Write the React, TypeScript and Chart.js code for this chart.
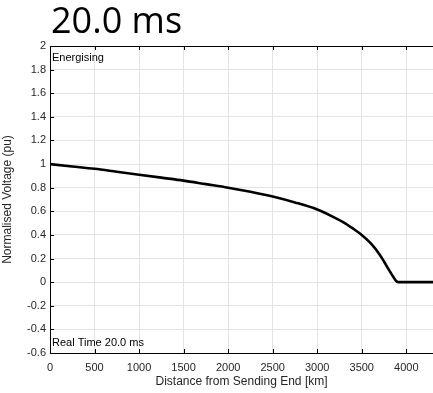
import React, { useEffect, useRef } from "react";
import { Chart, registerables } from "chart.js";

Chart.register(...registerables);

const titleText = "20.0 ms";
const topLabel = "Energising";
const bottomLabel = "Real Time 20.0 ms";
const xTitle = "Distance from Sending End [km]";
const yTitle = "Normalised Voltage (pu)";

const distanceKm = [0, 250, 500, 750, 1000, 1250, 1500, 1750, 2000, 2250, 2500, 2750, 3000, 3200, 3300, 3400, 3500, 3600, 3700, 3750, 3800, 3850, 3880, 3910, 4000, 4300];
const voltagePu = [1.0, 0.98, 0.96, 0.935, 0.91, 0.885, 0.86, 0.83, 0.8, 0.765, 0.725, 0.675, 0.615, 0.545, 0.505, 0.455, 0.4, 0.33, 0.235, 0.175, 0.11, 0.05, 0.015, 0, 0, 0];

const xTickValues = [0, 500, 1000, 1500, 2000, 2500, 3000, 3500, 4000];

const FONT = "'Liberation Sans', Arial, sans-serif";

const decorPlugin = {
  id: "decor",
  afterDraw(chart: any) {
    const { ctx, chartArea } = chart;
    const xs = chart.scales.x;
    const ys = chart.scales.y;
    ctx.save();
    ctx.strokeStyle = "#000";
    ctx.lineWidth = 1;
    ctx.beginPath();
    ctx.moveTo(chartArea.left, chartArea.top + 0.5);
    ctx.lineTo(chartArea.right, chartArea.top + 0.5);
    ctx.stroke();
    ctx.beginPath();
    xs.ticks.forEach((t: any) => {
      const px = Math.round(xs.getPixelForValue(t.value)) + 0.5;
      ctx.moveTo(px, chartArea.bottom);
      ctx.lineTo(px, chartArea.bottom - 4);
      ctx.moveTo(px, chartArea.top);
      ctx.lineTo(px, chartArea.top + 4);
    });
    ys.ticks.forEach((t: any) => {
      const py = Math.round(ys.getPixelForValue(t.value)) + 0.5;
      ctx.moveTo(chartArea.left, py);
      ctx.lineTo(chartArea.left + 4, py);
    });
    ctx.stroke();
    ctx.fillStyle = "#000";
    ctx.font = `11px ${FONT}`;
    ctx.textBaseline = "middle";
    ctx.textAlign = "left";
    ctx.fillText(topLabel, chartArea.left + 2, chartArea.top + 12);
    ctx.fillText(bottomLabel, chartArea.left + 2, chartArea.bottom - 10);
    ctx.font = `36px 'Open Sans', sans-serif`;
    ctx.textBaseline = "alphabetic";
    ctx.fillText(titleText, 51, 33);
    ctx.restore();
  },
};

export default function App() {
  const ref = useRef<HTMLCanvasElement | null>(null);
  useEffect(() => {
    if (!ref.current) return;
    const chart = new Chart(ref.current, {
      type: "line",
      data: {
        datasets: [
          {
            data: distanceKm.map((d, i) => ({ x: d, y: voltagePu[i] })),
            borderColor: "#000",
            borderWidth: 2.6,
            pointRadius: 0,
            fill: false,
            cubicInterpolationMode: "monotone",
          },
        ],
      },
      options: {
        animation: false,
        responsive: false,
        maintainAspectRatio: false,
        layout: { padding: { top: 46, right: 0, left: 0, bottom: 4 } },
        plugins: { legend: { display: false }, tooltip: { enabled: false } },
        scales: {
          x: {
            type: "linear",
            min: 0,
            max: 4300,
            afterBuildTicks: (scale: any) => {
              scale.ticks = xTickValues.map((v) => ({ value: v }));
            },
            afterFit: (scale: any) => {
              scale.height = 36;
            },
            grid: { color: "#e3e3e3", tickLength: 0, drawTicks: false },
            border: { color: "#000", width: 1 },
            ticks: {
              color: "#262626",
              font: { family: FONT, size: 11 },
              padding: 8,
              maxRotation: 0,
              callback: (v: any) => String(v),
            },
            title: {
              display: true,
              text: xTitle,
              color: "#262626",
              font: { family: FONT, size: 12 },
              padding: { top: 0, bottom: 0 },
            },
          },
          y: {
            min: -0.6,
            max: 2,
            ticks: {
              stepSize: 0.2,
              color: "#262626",
              font: { family: FONT, size: 11 },
              padding: 4,
              callback: (v: any) => String(Math.round(Number(v) * 10) / 10),
            },
            afterFit: (scale: any) => {
              scale.width = 50;
            },
            grid: { color: "#e3e3e3", tickLength: 0, drawTicks: false },
            border: { color: "#000", width: 1 },
            title: {
              display: true,
              text: yTitle,
              color: "#262626",
              font: { family: FONT, size: 12 },
              padding: { top: 0, bottom: 4 },
            },
          },
        },
      },
      plugins: [decorPlugin],
    });
    return () => chart.destroy();
  }, []);
  return (
    <div style={{ position: "fixed", left: 0, top: 0, width: 433, height: 393, background: "#fff" }}>
      <canvas ref={ref} width={433} height={393} style={{ width: 433, height: 393 }} />
    </div>
  );
}
